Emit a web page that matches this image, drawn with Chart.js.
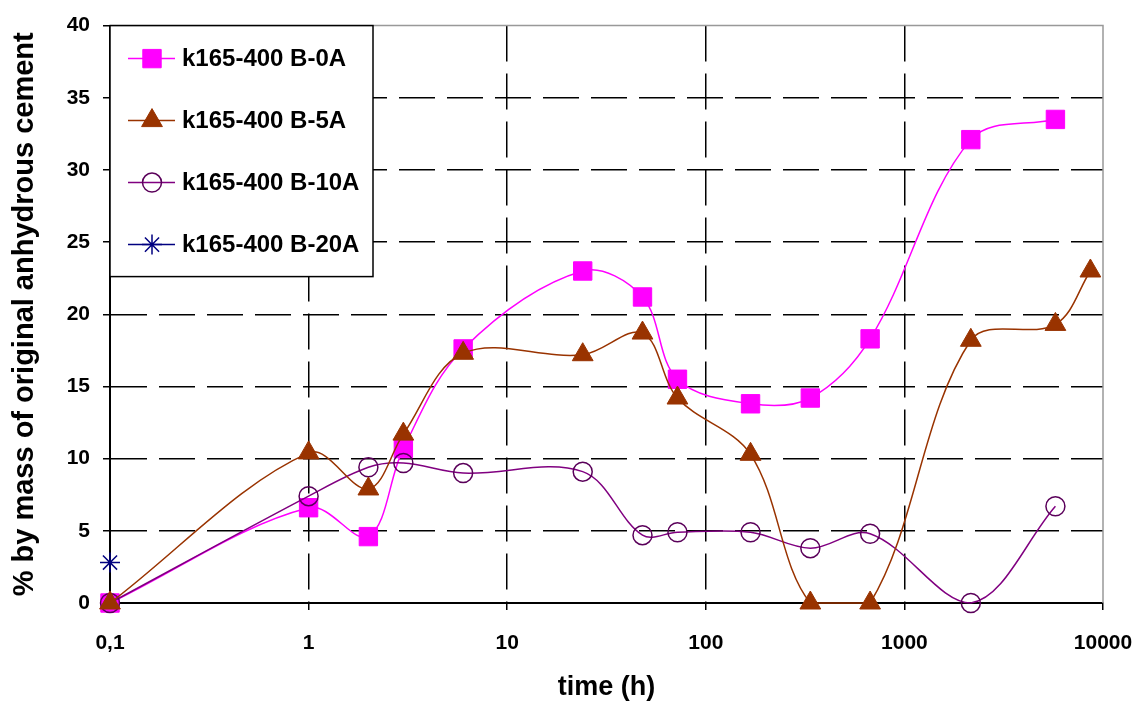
<!DOCTYPE html>
<html>
<head>
<meta charset="utf-8">
<script src="https://cdn.jsdelivr.net/npm/chart.js@4.4.1/dist/chart.umd.min.js"></script>
<style>
html, body { margin: 0; padding: 0; background: #fff; }
</style>
</head>
<body>
<canvas id="chart" width="1141" height="704"></canvas>
<script>
// hydration times (h); 0,1 stands in for t = 0 on the log axis
var times = [0.1, 1, 2, 3, 6, 24, 48, 72, 168, 336, 672, 2160, 5760];
var times5A = [0.1, 1, 2, 3, 6, 24, 48, 72, 168, 336, 672, 2160, 5760, 8640];
var times20A = [0.1];

var names = ["k165-400 B-0A", "k165-400 B-5A", "k165-400 B-10A", "k165-400 B-20A"];

var b0A = [0, 6.6, 4.6, 10.7, 17.6, 23.0, 21.2, 15.5, 13.8, 14.2, 18.3, 32.1, 33.5];
var b5A = [0, 10.4, 7.9, 11.7, 17.3, 17.2, 18.7, 14.2, 10.3, 0, 0, 18.2, 19.3, 23.0];
var b10A = [0, 7.4, 9.4, 9.7, 9.0, 9.1, 4.7, 4.9, 4.9, 3.8, 4.8, 0, 6.7];
var b20A = [2.8];

var xTicks = [0.1, 1, 10, 100, 1000, 10000];
var yTicks = [0, 5, 10, 15, 20, 25, 30, 35, 40];

var FONT = '"Liberation Sans", Arial, sans-serif';

function pts(xs, ys) {
    return xs.map(function (x, i) { return { x: x, y: ys[i] }; });
}

// grey frame on the top and right of the plot
var plotFrame = {
    id: "plotFrame",
    beforeDatasetsDraw: function (chart) {
        var ctx = chart.ctx, a = chart.chartArea;
        ctx.save();
        ctx.strokeStyle = "#999";
        ctx.lineWidth = 1.5;
        ctx.beginPath();
        ctx.moveTo(a.left, a.top);
        ctx.lineTo(a.right, a.top);
        ctx.lineTo(a.right, a.bottom);
        ctx.stroke();
        ctx.restore();
    }
};

// boxed legend in the top-left corner of the plot
var boxLegend = {
    id: "boxLegend",
    afterDraw: function (chart) {
        var ctx = chart.ctx, a = chart.chartArea;
        ctx.save();
        ctx.fillStyle = "#fff";
        ctx.fillRect(a.left, a.top, 263, 251);
        ctx.strokeStyle = "#000";
        ctx.lineWidth = 1.5;
        ctx.strokeRect(a.left, a.top, 263, 251);

        chart.data.datasets.forEach(function (ds, i) {
            var y = a.top + 33 + i * 62;
            var x0 = a.left + 18, x1 = a.left + 65, xm = a.left + 42;
            ctx.strokeStyle = ds.borderColor;
            ctx.lineWidth = 1.5;
            ctx.beginPath();
            ctx.moveTo(x0, y);
            ctx.lineTo(x1, y);
            ctx.stroke();

            ctx.fillStyle = ds.pointBackgroundColor;
            ctx.strokeStyle = ds.pointBorderColor;
            ctx.lineWidth = ds.pointBorderWidth;
            Chart.helpers.drawPoint(ctx, {
                pointStyle: ds.pointStyle,
                radius: ds.pointRadius,
                rotation: 0,
                borderWidth: ds.pointBorderWidth
            }, xm, y);

            ctx.fillStyle = "#000";
            ctx.font = "bold 24px " + FONT;
            ctx.textBaseline = "middle";
            ctx.textAlign = "left";
            ctx.fillText(names[i], a.left + 72, y + 1);
        });
        ctx.restore();
    }
};

var datasets = [
    {
        label: names[0],
        data: pts(times, b0A),
        borderColor: "#ff00ff",
        borderWidth: 1.5,
        pointStyle: "rect",
        pointRadius: 13,
        pointBackgroundColor: "#ff00ff",
        pointBorderColor: "#ff00ff",
        pointBorderWidth: 1,
        order: 4
    },
    {
        label: names[1],
        data: pts(times5A, b5A),
        borderColor: "#993300",
        borderWidth: 1.5,
        pointStyle: "triangle",
        pointRadius: 12,
        pointBackgroundColor: "#993300",
        pointBorderColor: "#993300",
        pointBorderWidth: 1,
        order: 2
    },
    {
        label: names[2],
        data: pts(times, b10A),
        borderColor: "#800080",
        borderWidth: 1.5,
        pointStyle: "circle",
        pointRadius: 9.5,
        pointBackgroundColor: "rgba(255,255,255,0)",
        pointBorderColor: "#5a005a",
        pointBorderWidth: 1.5,
        order: 3
    },
    {
        label: names[3],
        data: pts(times20A, b20A),
        borderColor: "#000080",
        borderWidth: 1.5,
        pointStyle: "star",
        pointRadius: 10,
        pointBackgroundColor: "#000080",
        pointBorderColor: "#000080",
        pointBorderWidth: 1.5,
        order: 1
    }
];

new Chart(document.getElementById("chart").getContext("2d"), {
    type: "line",
    data: { datasets: datasets },
    plugins: [plotFrame, boxLegend],
    options: {
        responsive: false,
        animation: false,
        devicePixelRatio: 1,
        layout: { padding: { top: 22, right: 38, left: 0, bottom: 0 } },
        elements: { line: { tension: 0.35, fill: false } },
        datasets: { line: { clip: 15 } },
        plugins: {
            legend: { display: false },
            tooltip: { enabled: false }
        },
        scales: {
            x: {
                type: "logarithmic",
                min: 0.1,
                max: 10000,
                afterBuildTicks: function (scale) {
                    scale.ticks = xTicks.map(function (v) { return { value: v }; });
                },
                afterFit: function (scale) {
                    scale.height = 101;
                    scale.paddingLeft = 0;
                    scale.paddingRight = 0;
                },
                ticks: {
                    autoSkip: false,
                    maxRotation: 0,
                    padding: 21,
                    color: "#000",
                    font: { family: FONT, size: 21, weight: "bold" },
                    callback: function (v) { return String(v).replace(".", ","); }
                },
                grid: {
                    color: function (c) {
                        var v = c.tick && c.tick.value;
                        return (v === 0.1 || v === 10000) ? "rgba(0,0,0,0)" : "#000";
                    },
                    lineWidth: 1.5,
                    tickLength: 7,
                    tickColor: "#000",
                    tickWidth: 1.5,
                    tickBorderDash: []
                },
                border: { color: "#000", width: 2, dash: [36, 12] },
                title: {
                    display: true,
                    text: "time (h)",
                    color: "#000",
                    font: { family: FONT, size: 27, weight: "bold" },
                    padding: { top: 0, bottom: 0 }
                }
            },
            y: {
                type: "linear",
                min: 0,
                max: 40,
                afterBuildTicks: function (scale) {
                    scale.ticks = yTicks.map(function (v) { return { value: v }; });
                },
                afterFit: function (scale) { scale.width = 110; },
                ticks: {
                    padding: 13,
                    color: "#000",
                    font: { family: FONT, size: 21, weight: "bold" }
                },
                grid: {
                    color: function (c) {
                        var v = c.tick && c.tick.value;
                        return (v === 0 || v === 40) ? "rgba(0,0,0,0)" : "#000";
                    },
                    lineWidth: 1.5,
                    tickLength: 7,
                    tickColor: "#000",
                    tickWidth: 1.5,
                    tickBorderDash: []
                },
                border: { color: "#000", width: 2, dash: [36, 12] },
                title: {
                    display: true,
                    text: "% by mass of original anhydrous cement",
                    color: "#000",
                    font: { family: FONT, size: 29, weight: "bold" },
                    padding: { top: 8, bottom: 0 }
                }
            }
        }
    }
});
</script>
</body>
</html>
